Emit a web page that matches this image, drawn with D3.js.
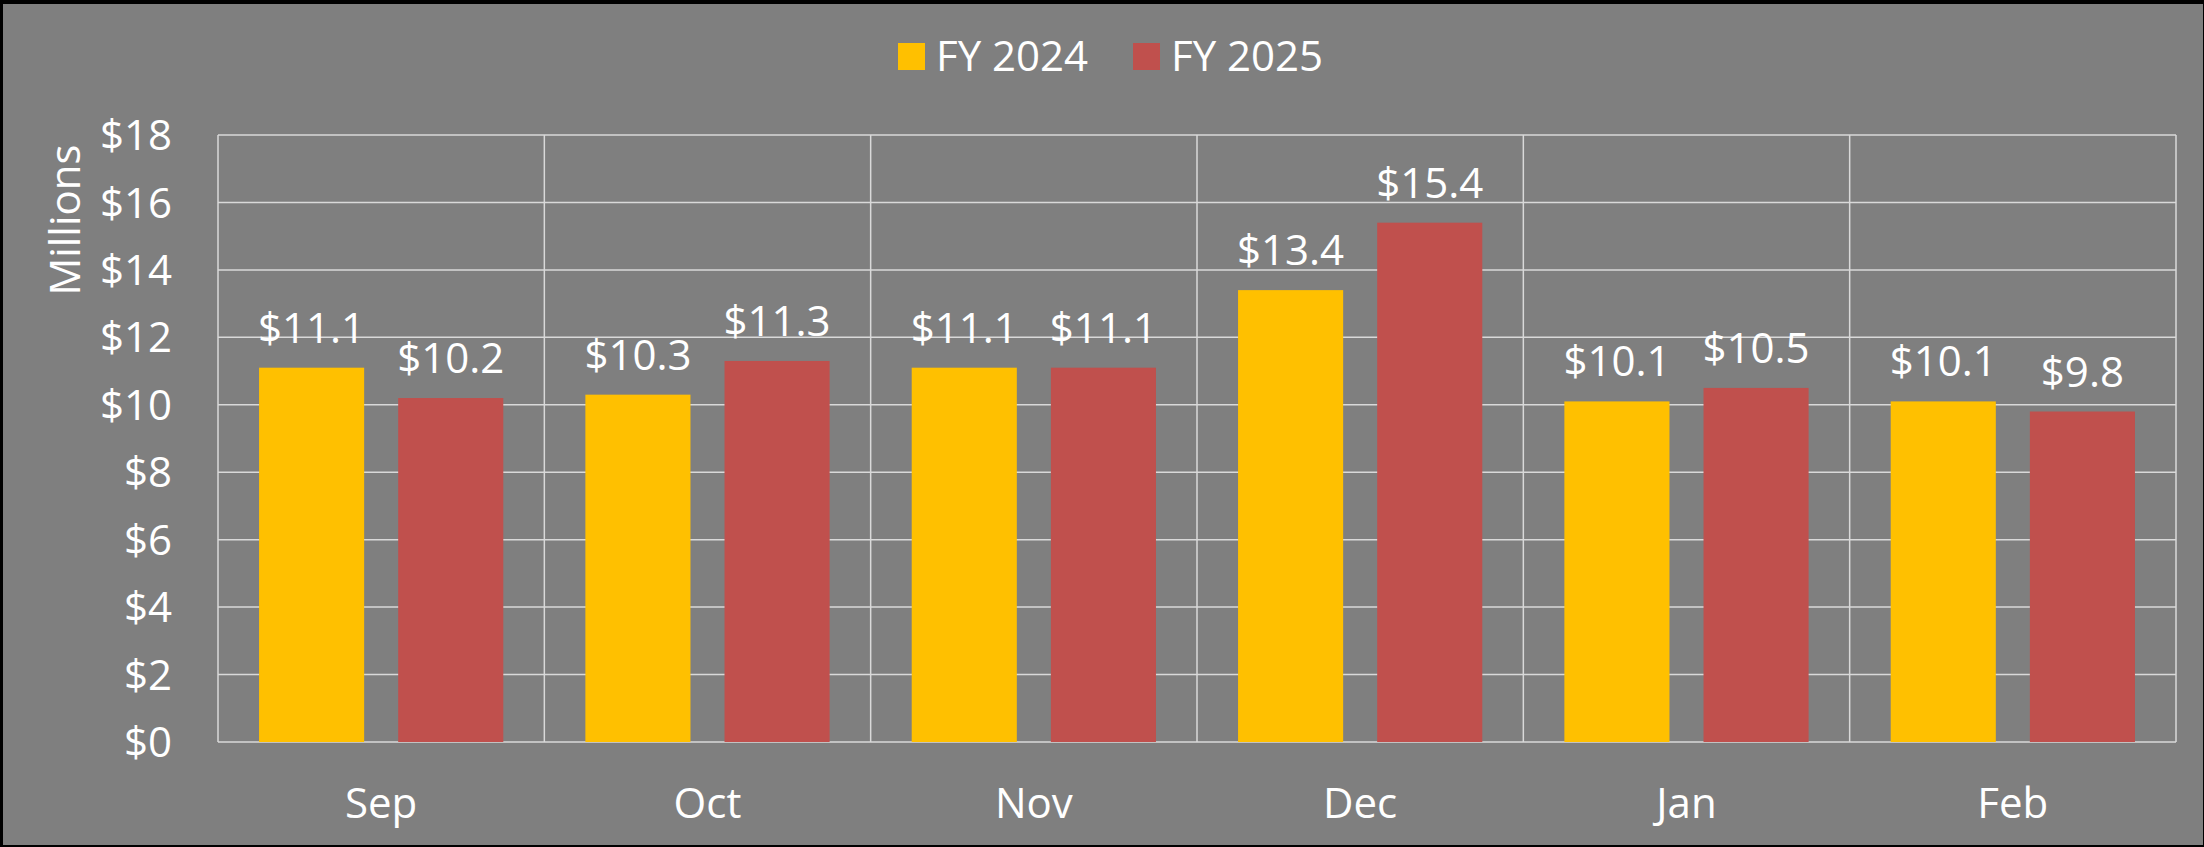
<!DOCTYPE html>
<html>
<head>
<meta charset="utf-8">
<script src="https://cdn.jsdelivr.net/npm/d3@7"></script>
<style>
  html, body { margin: 0; padding: 0; background: #000; }
  svg { display: block; }
  text { font-family: "Open Sans", sans-serif; fill: #ffffff; }
</style>
</head>
<body>
<svg id="chart" width="2204" height="847"></svg>
<script>
const categories = ["Sep", "Oct", "Nov", "Dec", "Jan", "Feb"];
const seriesNames = ["FY 2024", "FY 2025"];
const fy2024 = [11.1, 10.3, 11.1, 13.4, 10.1, 10.1];
const fy2025 = [10.2, 11.3, 11.1, 15.4, 10.5, 9.8];
const yTicks = [0, 2, 4, 6, 8, 10, 12, 14, 16, 18];
const colors = ["#FFC000", "#C0504D"];

const W = 2204, H = 847;
const FS = 42;
const svg = d3.select("#chart");

// background + black frame
svg.append("rect").attr("x", 0).attr("y", 0).attr("width", W).attr("height", H).attr("fill", "#000");
svg.append("rect").attr("x", 3).attr("y", 4).attr("width", W - 4).attr("height", H - 6).attr("fill", "#7f7f7f");

const plot = { left: 218, right: 2176, top: 135, bottom: 742 };

const x0 = d3.scaleBand().domain(categories).range([plot.left, plot.right]).padding(0);
const x1 = d3.scaleBand().domain(seriesNames).range([0, x0.bandwidth()])
  .paddingInner(0.2446).paddingOuter(0.295);
const y = d3.scaleLinear().domain([0, 18]).range([plot.bottom, plot.top]);

const gridColor = "#d9d9d9";

// horizontal gridlines
svg.append("g").selectAll("line").data(yTicks).join("line")
  .attr("x1", plot.left).attr("x2", plot.right)
  .attr("y1", d => y(d)).attr("y2", d => y(d))
  .attr("stroke", gridColor).attr("stroke-width", 1.5);

// vertical category dividers (incl. left and right edges)
const dividers = categories.map(c => x0(c)).concat([plot.right]);
svg.append("g").selectAll("line").data(dividers).join("line")
  .attr("x1", d => d).attr("x2", d => d)
  .attr("y1", plot.top).attr("y2", plot.bottom)
  .attr("stroke", gridColor).attr("stroke-width", 1.5);

// y tick labels
svg.append("g").selectAll("text").data(yTicks).join("text")
  .attr("x", 172).attr("y", d => y(d)).attr("dy", "0.36em")
  .attr("text-anchor", "end").attr("font-size", FS)
  .text(d => "$" + d);

// y axis title
svg.append("text")
  .attr("transform", "translate(80,220) rotate(-90)")
  .attr("text-anchor", "middle").attr("font-size", FS)
  .text("Millions");

// bars
const rows = categories.map((c, i) => ({ cat: c, vals: [fy2024[i], fy2025[i]] }));
const groups = svg.append("g").selectAll("g").data(rows).join("g")
  .attr("transform", d => `translate(${x0(d.cat)},0)`);

groups.selectAll("rect").data(d => d.vals.map((v, j) => ({ name: seriesNames[j], v, j }))).join("rect")
  .attr("x", d => x1(d.name)).attr("width", x1.bandwidth())
  .attr("y", d => y(d.v)).attr("height", d => y(0) - y(d.v))
  .attr("fill", d => colors[d.j]);

groups.selectAll("text").data(d => d.vals.map((v, j) => ({ name: seriesNames[j], v, j }))).join("text")
  .attr("x", d => x1(d.name) + x1.bandwidth() / 2)
  .attr("y", d => y(d.v) - 25)
  .attr("text-anchor", "middle").attr("font-size", FS)
  .text(d => "$" + d.v.toFixed(1));

// x labels
svg.append("g").selectAll("text").data(categories).join("text")
  .attr("x", d => x0(d) + x0.bandwidth() / 2).attr("y", 818)
  .attr("text-anchor", "middle").attr("font-size", FS)
  .text(d => d);

// legend
const legend = [
  { name: seriesNames[0], color: colors[0], x: 898 },
  { name: seriesNames[1], color: colors[1], x: 1133 }
];
const lg = svg.append("g").selectAll("g").data(legend).join("g");
lg.append("rect").attr("x", d => d.x).attr("y", 43).attr("width", 27).attr("height", 27).attr("fill", d => d.color);
lg.append("text").attr("x", d => d.x + 38).attr("y", 71).attr("font-size", FS).text(d => d.name);
</script>
</body>
</html>
